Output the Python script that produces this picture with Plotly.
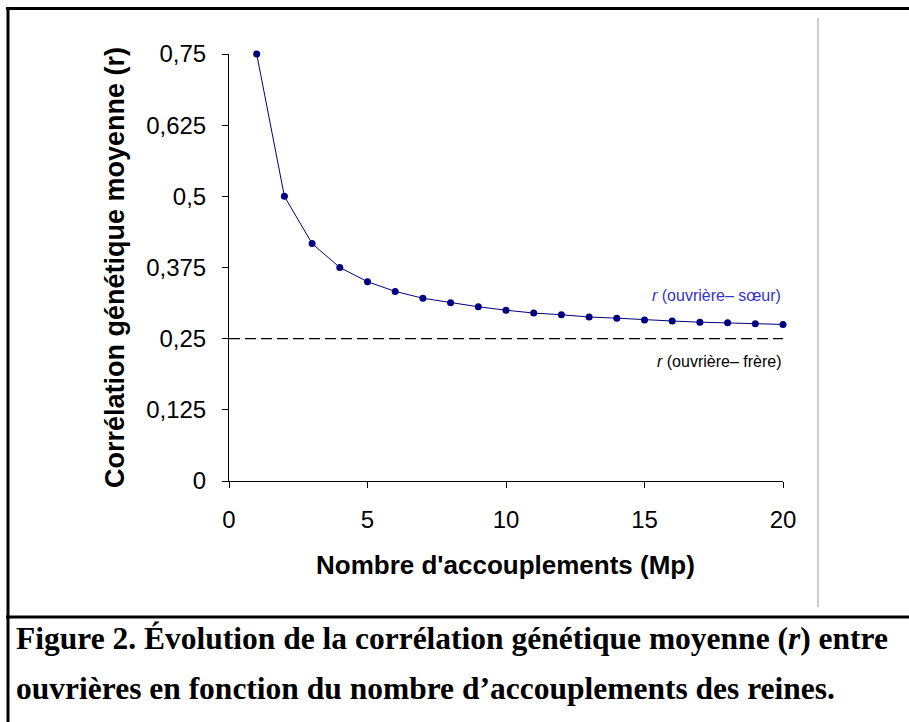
import plotly.graph_objects as go

# Data
matings = list(range(1, 21))
r_sister = [0.75, 0.5, 0.417, 0.375, 0.35, 0.333, 0.321, 0.313, 0.306, 0.3,
            0.295, 0.292, 0.288, 0.286, 0.283, 0.281, 0.279, 0.278, 0.276, 0.275]
r_brother = 0.25
x_ticks = [0, 5, 10, 15, 20]
y_ticks = [0, 0.125, 0.25, 0.375, 0.5, 0.625, 0.75]
y_ticktext = ["0", "0,125", "0,25", "0,375", "0,5", "0,625", "0,75"]

W, H = 909, 722
L, R, T, B = 229, 783, 54, 481


def px(x):
    return (x - L) / (R - L)


def py(y):
    return (B - y) / (B - T)


fig = go.Figure()
fig.add_trace(go.Scatter(
    x=[0, 20], y=[r_brother, r_brother], mode="lines",
    line=dict(color="black", width=1.3, dash="11px,5px"), showlegend=False,
    hoverinfo="skip"))
fig.add_trace(go.Scatter(
    x=matings, y=r_sister, mode="lines+markers", cliponaxis=False,
    line=dict(color="#000080", width=1),
    marker=dict(color="#000080", size=7), showlegend=False))

axis_font = dict(family="Liberation Sans, Arial", size=24, color="black")
fig.update_layout(
    width=W, height=H, margin=dict(l=L, r=W - R, t=T, b=H - B),
    paper_bgcolor="white", plot_bgcolor="white",
    xaxis=dict(range=[0, 20], tickvals=x_ticks, ticks="outside", ticklen=6,
               tickcolor="black", showline=True, linecolor="black", linewidth=1,
               showgrid=False, zeroline=False, tickfont=axis_font,
               ticklabelstandoff=11),
    yaxis=dict(range=[0, 0.75], tickvals=y_ticks, ticktext=y_ticktext,
               ticks="outside", ticklen=6, tickcolor="black", showline=True,
               linecolor="black", linewidth=1, showgrid=False, zeroline=False,
               tickfont=axis_font, ticklabelstandoff=11),
    font=dict(family="Liberation Sans, Arial", color="black"),
)

annos = [
    dict(x=px(783), y=py(295), text="<i>r</i> (ouvrière– sœur)",
         font=dict(size=16, color="#3333CC"), xanchor="right", yanchor="middle"),
    dict(x=px(783), y=py(361), text="<i>r</i> (ouvrière– frère)",
         font=dict(size=16, color="black"), xanchor="right", yanchor="middle"),
    dict(x=px(115), y=py(268), text="<b>Corrélation génétique moyenne (r)</b>",
         textangle=-90, font=dict(size=27, color="black"),
         xanchor="center", yanchor="middle"),
    dict(x=px(505), y=py(565), text="<b>Nombre d'accouplements (Mp)</b>",
         font=dict(size=26, color="black"), xanchor="center", yanchor="middle"),
    dict(x=px(14), y=py(638), text="<b>Figure 2. Évolution de la corrélation génétique moyenne (<i>r</i>) entre</b>",
         font=dict(family="Liberation Serif, Times New Roman", size=31.5, color="black"),
         xanchor="left", yanchor="middle"),
    dict(x=px(14), y=py(688), text="<b>ouvrières en fonction du nombre d’accouplements des reines.</b>",
         font=dict(family="Liberation Serif, Times New Roman", size=31.5, color="black"),
         xanchor="left", yanchor="middle"),
]
for a in annos:
    a.update(xref="paper", yref="paper", showarrow=False)
    fig.add_annotation(**a)

shapes = [
    dict(x0=px(6), x1=px(909), y0=py(8.5), y1=py(8.5), line=dict(color="black", width=3)),
    dict(x0=px(8), x1=px(8), y0=py(7), y1=py(722), line=dict(color="black", width=3)),
    dict(x0=px(6), x1=px(909), y0=py(617), y1=py(617), line=dict(color="black", width=3)),
    dict(x0=px(818), x1=px(818), y0=py(18), y1=py(607), line=dict(color="#999999", width=1)),
]
for s in shapes:
    s.update(type="line", xref="paper", yref="paper")
    fig.add_shape(**s)

fig.write_html("out.html")
